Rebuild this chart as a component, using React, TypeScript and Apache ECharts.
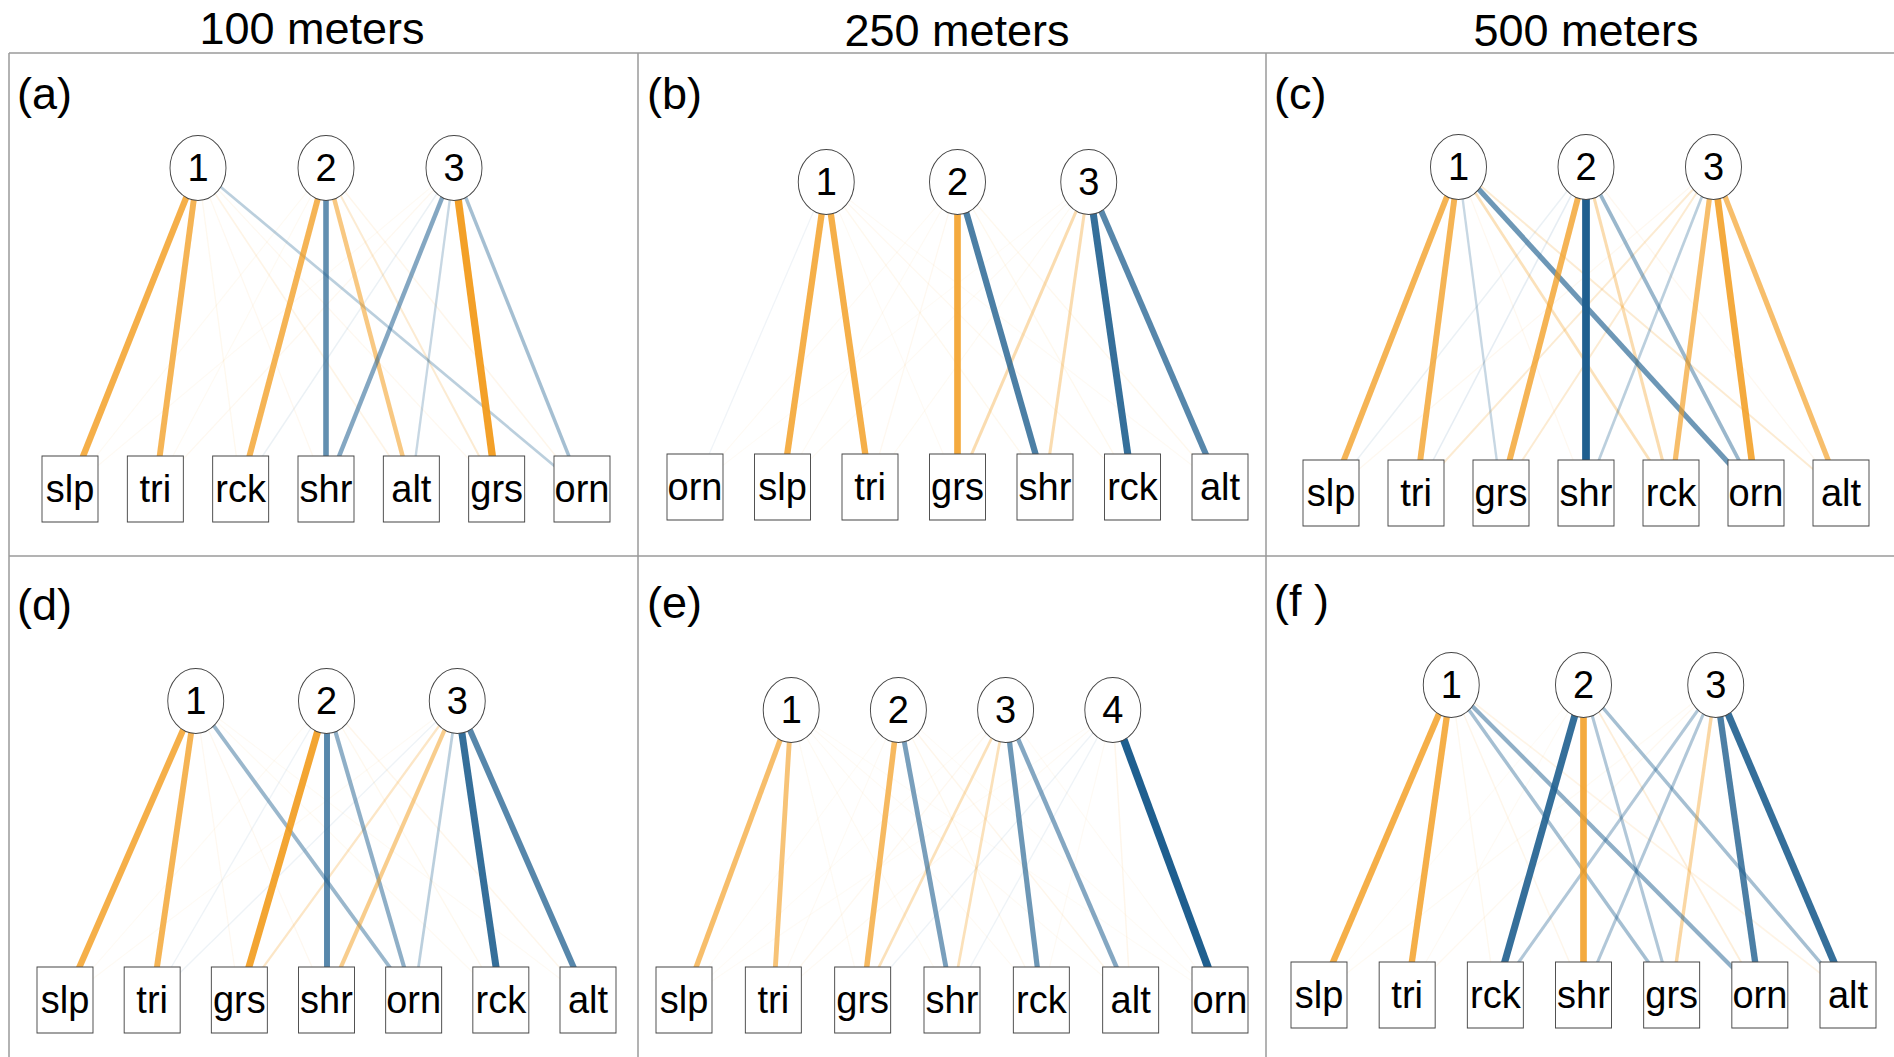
import React, { useEffect, useRef } from "react";
import * as echarts from "echarts";

// ---------- DATA ----------
const distanceTitles = ["100 meters", "250 meters", "500 meters"];
const panelLabels = ["(a)", "(b)", "(c)", "(d)", "(e)", "(f )"];

// bottom (variable) nodes for each panel, left to right
const bottomA = ["slp", "tri", "rck", "shr", "alt", "grs", "orn"];
const bottomB = ["orn", "slp", "tri", "grs", "shr", "rck", "alt"];
const bottomC = ["slp", "tri", "grs", "shr", "rck", "orn", "alt"];
const bottomD = ["slp", "tri", "grs", "shr", "orn", "rck", "alt"];
const bottomE = ["slp", "tri", "grs", "shr", "rck", "alt", "orn"];
const bottomF = ["slp", "tri", "rck", "shr", "grs", "orn", "alt"];

// edge weights: rows = top (cluster) nodes, columns = bottom nodes
// positive = orange, negative = blue, magnitude = strength
const weightsA = [
  [0.75, 0.7, 0.06, 0.05, 0.1, 0.05, -0.25],
  [0.04, 0.04, 0.7, -0.65, 0.5, 0.15, 0.08],
  [0.03, 0.05, -0.08, -0.5, -0.2, 0.9, -0.35],
];
const weightsB = [
  [-0.05, 0.75, 0.75, 0.03, 0.06, 0.05, 0.03],
  [0.03, 0.03, 0.05, 0.8, -0.75, 0.06, 0.06],
  [0.02, 0.03, 0.04, 0.3, 0.3, -0.85, -0.7],
];
const weightsC = [
  [0.7, 0.7, -0.2, 0.05, 0.25, -0.6, 0.15],
  [-0.08, -0.1, 0.7, -0.95, 0.3, -0.4, 0.05],
  [0.05, 0.15, 0.15, -0.25, 0.6, 0.8, 0.6],
];
const weightsD = [
  [0.75, 0.7, 0.05, 0.05, -0.4, 0.04, 0.03],
  [0.03, -0.06, 0.85, -0.7, -0.45, 0.06, 0.08],
  [0.03, -0.06, 0.2, 0.45, -0.25, -0.85, -0.7],
];
const weightsE = [
  [0.6, 0.55, 0.04, 0.04, 0.03, 0.03, 0.02],
  [0.02, 0.03, 0.65, -0.55, 0.06, 0.08, 0.02],
  [0.02, 0.05, 0.25, 0.25, -0.6, -0.5, 0.03],
  [0.02, 0.03, -0.06, -0.06, 0.03, 0.08, -0.95],
];
const weightsF = [
  [0.75, 0.75, 0.06, 0.08, -0.35, -0.45, 0.1],
  [0.02, 0.03, -0.85, 0.8, -0.3, 0.12, -0.35],
  [0.04, 0.05, -0.3, -0.3, 0.35, -0.75, -0.85],
];

const panels = [
  { bottom: bottomA, weights: weightsA },
  { bottom: bottomB, weights: weightsB },
  { bottom: bottomC, weights: weightsC },
  { bottom: bottomD, weights: weightsD },
  { bottom: bottomE, weights: weightsE },
  { bottom: bottomF, weights: weightsF },
];

// ---------- LAYOUT ----------
const geo = [
  { x0: 70, x6: 582, yTop: 168, yBot: 489, gap: 1.5 },
  { x0: 695, x6: 1220, yTop: 182, yBot: 487, gap: 1.5 },
  { x0: 1331, x6: 1841, yTop: 167, yBot: 493, gap: 1.5 },
  { x0: 65, x6: 588, yTop: 701, yBot: 1000, gap: 1.5 },
  { x0: 684, x6: 1220, yTop: 710, yBot: 1000, gap: 1.2 },
  { x0: 1319, x6: 1848, yTop: 685, yBot: 995, gap: 1.5 },
];
const titlePos = [
  { x: 312, y: 28 },
  { x: 957, y: 30 },
  { x: 1586, y: 30 },
];
const labelPos = [
  { x: 17, y: 93 },
  { x: 647, y: 93 },
  { x: 1274, y: 93 },
  { x: 17, y: 604 },
  { x: 647, y: 602 },
  { x: 1274, y: 600 },
];

const FONT = "'Liberation Sans', Arial, Helvetica, sans-serif";
const ELLIPSE = "path://M0,32.5 A28,32.5 0 1,1 56,32.5 A28,32.5 0 1,1 0,32.5 Z";
const BORDER = "#9a9a9a";

function edgeColor(w: number) {
  const m = Math.abs(w);
  const a = Math.min(1, m < 0.12 ? 0.02 + m * 0.9 : 0.05 + m);
  return w >= 0 ? `rgba(242,155,28,${a})` : `rgba(31,95,143,${a})`;
}

function buildOption() {
  const grid: any[] = [];
  const xAxis: any[] = [];
  const yAxis: any[] = [];
  const series: any[] = [];

  panels.forEach((p, i) => {
    const g = geo[i];
    grid.push({
      left: g.x0,
      top: g.yTop,
      width: g.x6 - g.x0,
      height: g.yBot - g.yTop,
      show: false,
      outerBoundsMode: "none",
    });
    xAxis.push({ type: "value", gridIndex: i, min: 0, max: 6, show: false });
    yAxis.push({ type: "value", gridIndex: i, min: 0, max: 1, show: false });

    const nTop = p.weights.length;
    const nodes: any[] = [];
    for (let j = 0; j < nTop; j++) {
      nodes.push({
        name: String(j + 1),
        value: [3 + (j - (nTop - 1) / 2) * g.gap, 1],
        symbol: ELLIPSE,
        symbolSize: [56, 65],
      });
    }
    p.bottom.forEach((b, k) => {
      nodes.push({
        name: b,
        value: [k, 0],
        symbol: "rect",
        symbolSize: [56, 66],
      });
    });

    const links: any[] = [];
    p.weights.forEach((row, j) => {
      row.forEach((w, k) => {
        links.push({
          source: String(j + 1),
          target: p.bottom[k],
          abs: Math.abs(w),
          lineStyle: {
            color: edgeColor(w),
            width: 0.9 + 7.2 * Math.abs(w),
            opacity: 1,
          },
        });
      });
    });
    links.sort((a, b) => a.abs - b.abs);

    series.push({
      type: "graph",
      coordinateSystem: "cartesian2d",
      xAxisIndex: i,
      yAxisIndex: i,
      roam: false,
      silent: true,
      data: nodes,
      links: links.map(({ abs, ...rest }) => rest),
      itemStyle: { color: "#ffffff", borderColor: "#444444", borderWidth: 1 },
      label: {
        show: true,
        position: "inside",
        formatter: "{b}",
        fontSize: 38,
        fontFamily: FONT,
        color: "#000000",
      },
      lineStyle: { opacity: 1, curveness: 0 },
      emphasis: { disabled: true },
    });
  });

  const graphic: any[] = [];
  const lineStyle = { stroke: BORDER, lineWidth: 1.5 };
  graphic.push({ type: "line", shape: { x1: 9, y1: 53, x2: 1894, y2: 53 }, style: lineStyle });
  graphic.push({ type: "line", shape: { x1: 9, y1: 556, x2: 1894, y2: 556 }, style: lineStyle });
  [9, 638, 1266].forEach((x) => {
    graphic.push({ type: "line", shape: { x1: x, y1: 53, x2: x, y2: 1057 }, style: lineStyle });
  });
  distanceTitles.forEach((t, i) => {
    graphic.push({
      type: "text",
      x: titlePos[i].x,
      y: titlePos[i].y,
      style: {
        text: t,
        fontSize: 45,
        fontFamily: FONT,
        fill: "#000",
        align: "center",
        verticalAlign: "middle",
      },
    });
  });
  panelLabels.forEach((t, i) => {
    graphic.push({
      type: "text",
      x: labelPos[i].x,
      y: labelPos[i].y,
      style: {
        text: t,
        fontSize: 45,
        fontFamily: FONT,
        fill: "#000",
        align: "left",
        verticalAlign: "middle",
      },
    });
  });

  return {
    animation: false,
    backgroundColor: "#ffffff",
    grid,
    xAxis,
    yAxis,
    series,
    graphic,
  };
}

export default function App() {
  const ref = useRef<HTMLDivElement>(null);
  useEffect(() => {
    if (!ref.current) return;
    const chart = echarts.init(ref.current, null, { renderer: "svg" });
    chart.setOption(buildOption());
    return () => chart.dispose();
  }, []);
  return (
    <div
      ref={ref}
      style={{ position: "absolute", left: 0, top: 0, width: 1894, height: 1057 }}
    />
  );
}
